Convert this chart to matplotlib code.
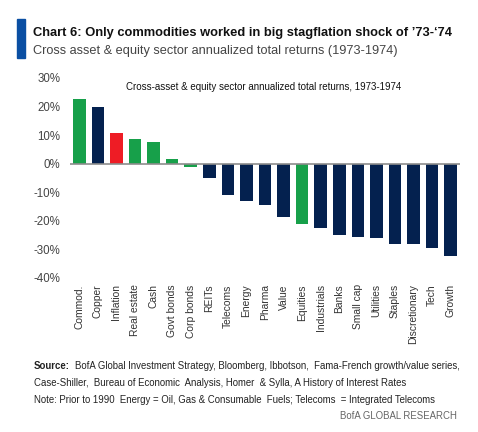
import matplotlib
matplotlib.use("Agg")
import matplotlib.pyplot as plt
from matplotlib.patches import Rectangle
from matplotlib.ticker import FuncFormatter, MultipleLocator

categories = ["Commod.", "Copper", "Inflation", "Real estate", "Cash", "Govt bonds",
              "Corp bonds", "REITs", "Telecoms", "Energy", "Pharma", "Value",
              "Equities", "Industrials", "Banks", "Small cap", "Utilities",
              "Staples", "Discretionary", "Tech", "Growth"]
returns = [22.7, 19.7, 10.7, 8.5, 7.7, 1.8, -1.1, -4.9, -10.9, -13.1, -14.3,
           -18.7, -21.0, -22.6, -24.9, -25.7, -26.0, -28.0, -28.0, -29.5, -32.3]
groups = ["g", "n", "r", "g", "g", "g", "g", "n", "n", "n", "n", "n",
          "g", "n", "n", "n", "n", "n", "n", "n", "n"]
palette = {"g": "#17a04a", "n": "#04214f", "r": "#ee1c25"}

plt.rcParams['font.family'] = ['Liberation Sans', 'DejaVu Sans']

W, H = 478, 432
fig = plt.figure(figsize=(W / 100, H / 100), dpi=100)
renderer = fig.canvas.get_renderer()

def fx(px):
    return px / W

def fy(py):
    return 1 - py / H

def fit(t, target_px):
    w = t.get_window_extent(renderer).width
    t.set_fontsize(t.get_fontsize() * target_px / w)
    return t

ax = fig.add_axes([fx(70), fy(278), fx(460) - fx(70), fy(78) - fy(278)])
x = list(range(len(categories)))
ax.bar(x, returns, width=0.68, color=[palette[g] for g in groups], zorder=2)
ax.axhline(0, color="#8c8c8c", lw=1.2, zorder=3)
ax.set_xlim(-0.5, len(categories) - 0.5)
ax.set_ylim(-40, 30)
ax.yaxis.set_major_locator(MultipleLocator(10))
ax.yaxis.set_major_formatter(FuncFormatter(lambda v, p: f"{int(round(v))}%"))
for s in ax.spines.values():
    s.set_visible(False)
ax.tick_params(axis="both", length=0)
ax.tick_params(axis="y", labelsize=8.3, labelcolor="#444444", pad=7)
ax.set_xticks(x)
ax.set_xticklabels(categories, rotation=90, fontsize=7.4, color="#333333", va="top")
ax.tick_params(axis="x", pad=4.5)
ax.set_facecolor("white")

t = ax.text(0.5, 0.955, "Cross-asset & equity sector annualized total returns, 1973-1974",
            transform=ax.transAxes, ha="center", va="center", fontsize=7.8,
            color="#111111")
fit(t, 277)
t.set_x((fx(125) + fx(402)) / 2 * W / W)
t.set_transform(fig.transFigure)
t.set_position(((fx(125) + fx(402)) / 2, fy(87)))

# header
fig.patches.append(Rectangle((fx(17), fy(58)), fx(25) - fx(17), fy(19) - fy(58),
                             transform=fig.transFigure, color="#0a4fa3"))
t = fig.text(fx(33), fy(33), "Chart 6: Only commodities worked in big stagflation shock of \u201973-\u201874",
             fontsize=10, fontweight="bold", color="#111111", va="center", ha="left")
fit(t, 419)
t = fig.text(fx(33), fy(51), "Cross asset & equity sector annualized total returns (1973-1974)",
             fontsize=10, color="#444444", va="center", ha="left")
fit(t, 367)

# footer
fs = 6.6
src = fig.text(fx(34), fy(366), "Source:", fontsize=fs, fontweight="bold",
               color="#222222", va="center", ha="left")
rest = fig.text(fx(34), fy(366), "BofA Global Investment Strategy, Bloomberg, Ibbotson,  Fama-French growth/value series,",
                fontsize=fs, color="#222222", va="center", ha="left")
# fit entire line 1 to width
sw = src.get_window_extent(renderer).width
rw = rest.get_window_extent(renderer).width
gap = 5
scale = (462 - 34 - gap) / (sw + rw)
src.set_fontsize(fs * scale)
rest.set_fontsize(fs * scale)
sw = src.get_window_extent(renderer).width
rest.set_x(fx(34 + sw + gap))
fs2 = fs * scale
fig.text(fx(34), fy(383), "Case-Shiller,  Bureau of Economic  Analysis, Homer  & Sylla, A History of Interest Rates",
         fontsize=fs2, color="#222222", va="center", ha="left")
fig.text(fx(34), fy(400), "Note: Prior to 1990  Energy = Oil, Gas & Consumable  Fuels; Telecoms  = Integrated Telecoms",
         fontsize=fs2, color="#222222", va="center", ha="left")
fig.text(fx(457), fy(416), "BofA GLOBAL RESEARCH", fontsize=fs2, color="#666666",
         va="center", ha="right")

fig.savefig("out.png", dpi=100, facecolor="white")
